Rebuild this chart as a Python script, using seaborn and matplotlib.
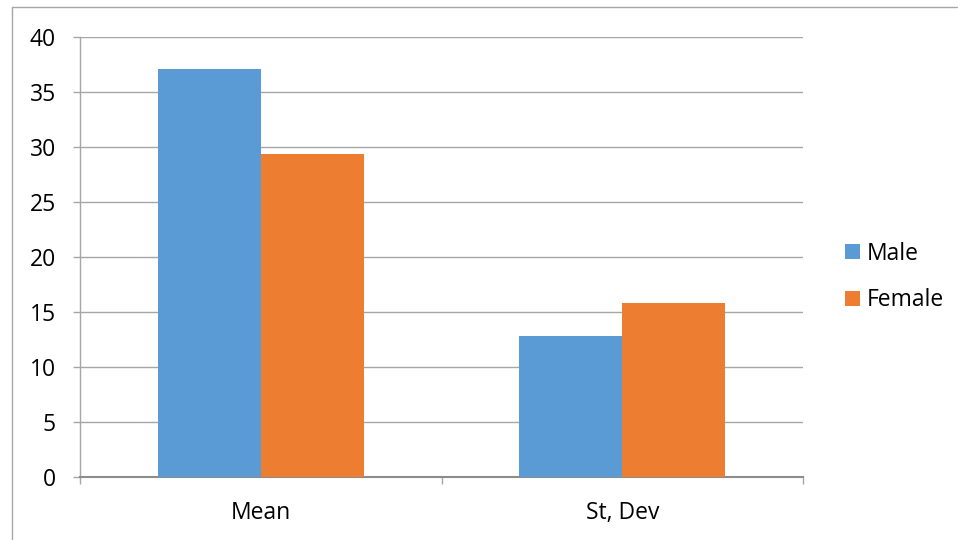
import matplotlib
matplotlib.use("Agg")
import matplotlib.pyplot as plt
import seaborn as sns
import pandas as pd
from matplotlib.patches import Patch
from matplotlib.lines import Line2D

categories = ["Mean", "St, Dev"]
male = [37.1, 12.8]
female = [29.4, 15.85]
series = ["Male", "Female"]
colors = ["#5B9BD5", "#ED7D31"]
yticks = [0, 5, 10, 15, 20, 25, 30, 35, 40]

df = pd.DataFrame({
    "cat": categories * 2,
    "val": male + female,
    "ser": [series[0]] * 2 + [series[1]] * 2,
})

sns.set_theme(style="white")
plt.rcParams["font.family"] = ["Open Sans", "DejaVu Sans"]
plt.rcParams["text.color"] = "black"

fig = plt.figure(figsize=(9.58, 5.4), dpi=100)
ax = fig.add_axes([80 / 958, 1 - 477 / 540, 723 / 958, 440 / 540])

sns.barplot(data=df, x="cat", y="val", hue="ser", palette=colors, width=0.57,
            saturation=1, ax=ax, legend=False, edgecolor="none", zorder=3)

fs = 16.5
ax.set_ylim(0, 40)
ax.set_xlim(-0.5, 1.5)
ax.set_yticks(yticks)
ax.set_yticklabels([str(t) for t in yticks], fontsize=fs, color="black")
ax.tick_params(axis="y", length=5, color="#a6a6a6", width=1, pad=12.5, left=True)
ax.set_xticks([0, 1])
ax.set_xticklabels(categories, fontsize=fs, color="black")
ax.tick_params(axis="x", length=0, pad=17)
ax.set_xticks([-0.5, 0.5, 1.5], minor=True)
ax.tick_params(axis="x", which="minor", length=5, color="#a6a6a6", width=1, bottom=True)
ax.grid(axis="y", color="#a6a6a6", linewidth=1, zorder=0)
ax.set_axisbelow(True)
ax.set_xlabel("")
ax.set_ylabel("")
for s in ["top", "right"]:
    ax.spines[s].set_visible(False)
for s in ["left", "bottom"]:
    ax.spines[s].set_color("#a6a6a6")
    ax.spines[s].set_linewidth(1)
ax.spines["bottom"].set_linewidth(1.5)
ax.spines["bottom"].set_color("#8c8c8c")

handles = [Patch(facecolor=c, edgecolor="none", label=s) for s, c in zip(series, colors)]
fig.legend(handles=handles, loc="center left", bbox_to_anchor=(845 / 958, 1 - 277 / 540),
           frameon=False, fontsize=fs, handlelength=0.65, handleheight=0.65,
           handletextpad=0.3, labelspacing=1.0, labelcolor="black",
           borderpad=0, borderaxespad=0)

# outer chart border
fig.add_artist(Line2D([12 / 958, 12 / 958], [0, 1 - 7 / 540], transform=fig.transFigure,
                      color="#a6a6a6", linewidth=1))
fig.add_artist(Line2D([12 / 958, 957 / 958], [1 - 7 / 540, 1 - 7 / 540], transform=fig.transFigure,
                      color="#a6a6a6", linewidth=1))

fig.savefig("out.png", dpi=100)
